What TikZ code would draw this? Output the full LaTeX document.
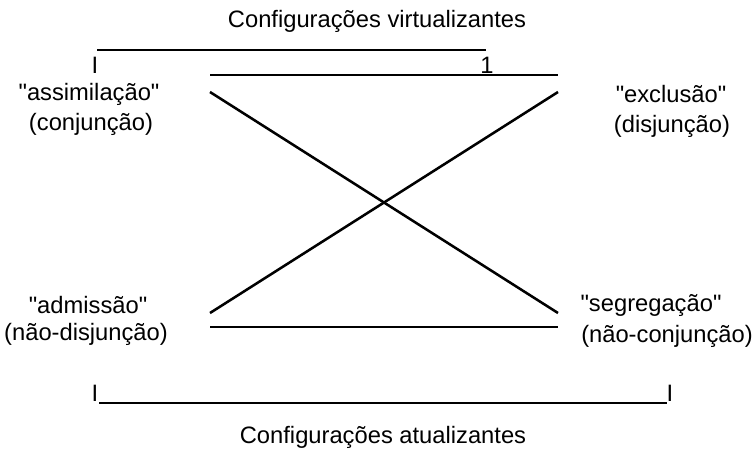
\documentclass[tikz,border=0pt]{standalone}
\usepackage{fontspec}
\setmainfont{Liberation Sans}[Ligatures=TeXOff]
\usetikzlibrary{positioning}

\begin{document}
\begin{tikzpicture}[
		  x=0.75pt, y=-0.75pt,
		  % Define the style of the text labels
		  term/.style={inner sep=0pt, font=\fontsize{17.8}{21}\selectfont},
		  % Define the style of the lines
		  bar/.style={line width=1.9pt}
		  ]
		  \useasboundingbox (0,0) rectangle (755,451);

		  % Titles
		  \node[term] (virtual) at (377,21) {Configurações virtualizantes};
		  \node[term] (atual) at (383,437) {Configurações atualizantes};

		  % Corner labels
		  \foreach \n/\x/\y/\txt in {assim/89/94/"assimilação", conj/91/124/(conjunção),
		      excl/671/94/"exclusão", disj/672/126/(disjunção),
		      admis/88/305/"admissão", ndisj/86/334/(não-disjunção),
		      segreg/651/305/"segregação", nconj/667/336/(não-conjunção)} {
		    \node[term] (\n) at (\x,\y) {\txt};
		  }

		  % Marks at the ends of the scales
		  \node[term] (vmarkl) at (95,65) {I};
		  \node[term] (vmarkr) at (487,65) {1};
		  \node[term] (amarkl) at (95,393) {I};
		  \node[term] (amarkr) at (670,393) {I};

		  % End points of the lines
		  \coordinate (vl) at (97,50);   \coordinate (vr) at (486,50);
		  \coordinate (tl) at (210,75);  \coordinate (tr) at (558,75);
		  \coordinate (ul) at (210,92);  \coordinate (ur) at (558,92);
		  \coordinate (dl) at (210,313); \coordinate (dr) at (558,313);
		  \coordinate (bl) at (210,327); \coordinate (br) at (558,327);
		  \coordinate (al) at (99,403);  \coordinate (ar) at (667,403);

		  % Connect the points
		  \draw[bar] (vl) -- (vr);
		  \draw[bar] (tl) -- (tr);
		  \draw[bar] (ul) -- (dr);
		  \draw[bar] (dl) -- (ur);
		  \draw[bar] (bl) -- (br);
		  \draw[bar] (al) -- (ar);
		\end{tikzpicture}
\end{document}
